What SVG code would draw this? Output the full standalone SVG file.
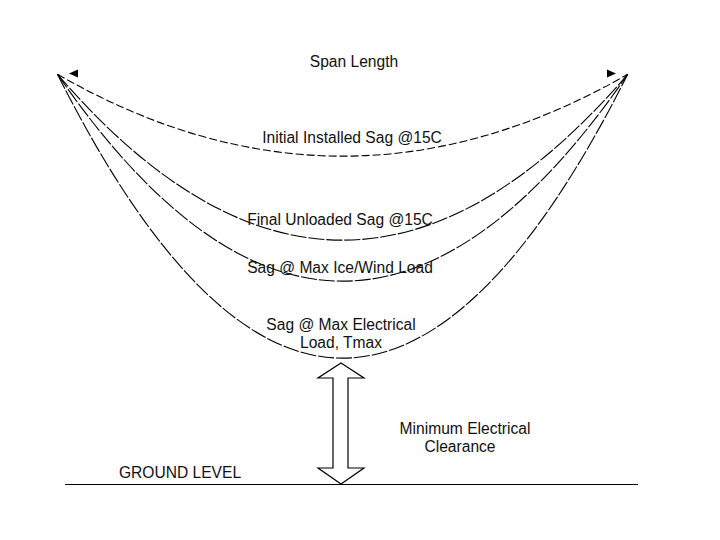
<svg xmlns="http://www.w3.org/2000/svg" width="720" height="540" viewBox="0 0 720 540">
<style>
.sag{fill:none;stroke:#000;stroke-width:1.1}
.d1{stroke-dasharray:8 3}
.d2{stroke-dasharray:16 2}
.lbl{font-family:"Liberation Sans",Arial,sans-serif;font-size:15.6px;fill:#111;text-anchor:middle}
.ln{fill:none;stroke:#000;stroke-width:1.2}
</style>
<rect width="720" height="540" fill="#fff"/>
<g id="connectors">
<path class="sag d1" d="M57.5,74.3 Q342.5,238 627.7,74.3"/>
<path class="sag d2" d="M57.5,74.3 Q342.5,406 627.7,74.3"/>
<path class="sag d2" d="M57.5,74.3 Q342.5,488 627.7,74.3"/>
<path class="sag d2" d="M57.5,74.3 Q342.5,642 627.7,74.3"/>
<polygon points="69,73.5 78,69.5 78,77.5" fill="#000"/>
<polygon points="616,73.5 607,69.5 607,77.5" fill="#000"/>
</g>
<g id="span-length"><text class="lbl" x="354" y="67">Span Length</text></g>
<g id="initial-sag"><text class="lbl" x="352" y="143">Initial Installed Sag @15C</text></g>
<g id="final-sag"><text class="lbl" x="340" y="225">Final Unloaded Sag @15C</text></g>
<g id="ice-sag"><text class="lbl" x="340" y="273">Sag @ Max Ice/Wind Load</text></g>
<g id="elec-sag"><text class="lbl" x="341" y="330">Sag @ Max Electrical</text><text class="lbl" x="341" y="348">Load, Tmax</text></g>
<g id="clearance-arrow">
<polygon class="ln" fill="none" points="341,363 364,378 348,378 348,468 364,468 341,484 318,468 333,468 333,378 318,378"/>
</g>
<g id="clearance-label"><text class="lbl" x="465" y="434">Minimum Electrical</text><text class="lbl" x="460" y="452">Clearance</text></g>
<g id="ground">
<line class="ln" x1="65" y1="484.5" x2="638" y2="484.5"/>
<text class="lbl" x="180" y="478">GROUND LEVEL</text>
</g>
</svg>
